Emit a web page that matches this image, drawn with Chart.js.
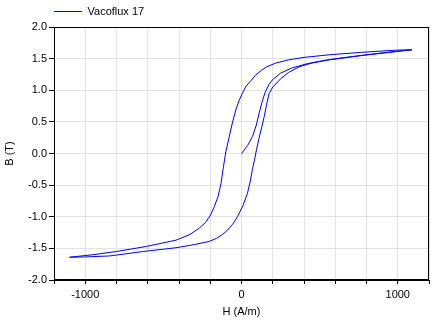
<!DOCTYPE html>
<html lang="en">
<head>
  <meta charset="UTF-8" />
  <title>Vacoflux 17 B-H loop</title>
  <script src="https://cdn.jsdelivr.net/npm/chart.js"></script>
  <style>
    html, body { margin: 0; padding: 0; background: #fff; }
    #chart-container { width: 435px; height: 323px; }
  </style>
</head>
<body>
  <div id="chart-container">
    <canvas id="loopChart"></canvas>
  </div>

  <script>
    // H (A/m) and B (T), in drawing order:
    // initial curve, descending branch, ascending branch
    const seriesLabel = 'Vacoflux 17';
    const hValues = [
      0, 40, 70, 95, 113, 130, 150, 175, 200, 250, 320, 420, 550, 700, 900, 1090,
      1000, 900, 770, 560, 400, 300, 220, 160, 130, 90, 64, 30, 5, -15, -35, -57, -80, -100,
      -115, -131, -150, -174, -200, -230, -270, -330, -419, -610, -802, -950, -1100,
      -1000, -844, -632, -419, -302, -206, -160, -121, -89, -57, -26, 10, 38, 55, 70, 85, 96,
      113, 130, 145, 160, 177, 200, 250, 300, 368, 450, 559, 772, 950, 1090
    ];
    const bValues = [
      0, 0.13, 0.27, 0.45, 0.64, 0.80, 0.96, 1.09, 1.17, 1.27, 1.35, 1.42, 1.48, 1.53, 1.59, 1.64,
      1.635, 1.62, 1.60, 1.56, 1.52, 1.48, 1.43, 1.37, 1.32, 1.24, 1.16, 1.07, 0.95, 0.84, 0.70, 0.50, 0.25, 0.03,
      -0.20, -0.47, -0.68, -0.84, -0.98, -1.09, -1.18, -1.28, -1.37, -1.47, -1.55, -1.60, -1.64,
      -1.635, -1.62, -1.55, -1.49, -1.44, -1.39, -1.34, -1.28, -1.21, -1.12, -1.0, -0.82, -0.63, -0.45, -0.25, -0.08, 0.06,
      0.25, 0.42, 0.58, 0.77, 0.95, 1.05, 1.18, 1.28, 1.37, 1.43, 1.48, 1.55, 1.60, 1.64
    ];
    const hLabelTicks = [-1000, 0, 1000];

    const font = { family: '"Liberation Sans", Arial, sans-serif', size: 11 };
    const gridColor = '#e3e3e3';

    // black frame round the plot area
    const frame = {
      id: 'frame',
      afterDraw(chart) {
        const { ctx, chartArea: a } = chart;
        ctx.save();
        ctx.strokeStyle = '#000';
        ctx.lineWidth = 1;
        ctx.strokeRect(Math.round(a.left) + 0.5, Math.round(a.top) + 0.5,
          Math.round(a.right - a.left) - 1, Math.round(a.bottom - a.top) - 1);
        ctx.restore();
      }
    };

    const ctx = document.getElementById('loopChart').getContext('2d');
    const chart = new Chart(ctx, {
      type: 'scatter',
      data: {
        datasets: [{
          label: seriesLabel,
          data: hValues.map((h, i) => ({ x: h, y: bValues[i] })),
          showLine: true,
          borderColor: '#0000ff',
          backgroundColor: '#0000ff',
          borderWidth: 1,
          pointRadius: 0,
          tension: 0
        }]
      },
      options: {
        responsive: true,
        maintainAspectRatio: false,
        animation: false,
        layout: { padding: { top: 6, right: 6, left: 0, bottom: 0 } },
        plugins: {
          legend: {
            position: 'top',
            align: 'start',
            fullSize: false,
            labels: {
              usePointStyle: true,
              pointStyle: 'line',
              pointStyleWidth: 28,
              padding: 0,
              color: '#000',
              font: font
            }
          },
          tooltip: { enabled: false }
        },
        scales: {
          x: {
            type: 'linear',
            min: -1200,
            max: 1200,
            afterFit(scale) { scale.height = 43; },
            grid: { color: gridColor, tickColor: '#000', tickLength: 4 },
            border: { color: '#000' },
            ticks: {
              stepSize: 200,
              color: '#000',
              font: font,
              padding: 4,
              maxRotation: 0,
              autoSkip: false,
              callback: v => hLabelTicks.includes(v) ? String(v) : ''
            },
            title: { display: true, text: 'H (A/m)', color: '#000', font: font, padding: { top: 2, bottom: 4 } }
          },
          y: {
            min: -2,
            max: 2,
            afterFit(scale) { scale.width = 54; },
            grid: { color: gridColor, tickColor: '#000', tickLength: 5 },
            border: { color: '#000' },
            ticks: {
              stepSize: 0.5,
              color: '#000',
              font: font,
              padding: 2,
              callback: v => Number(v).toFixed(1)
            },
            title: { display: true, text: 'B (T)', color: '#000', font: font, padding: { top: 3, bottom: 2 } }
          }
        }
      },
      plugins: [frame]
    });
  </script>
</body>
</html>
